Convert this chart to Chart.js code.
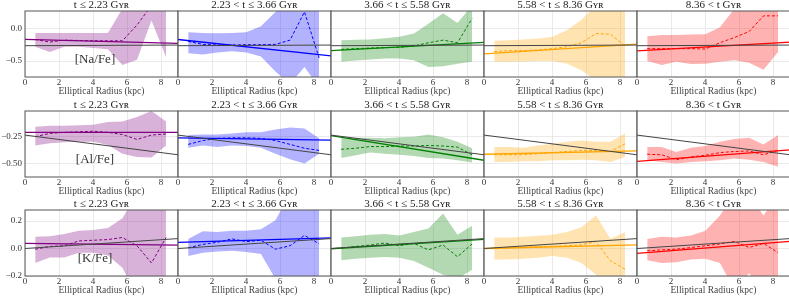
<!DOCTYPE html>
<html lang="en">
  <head>
    <meta charset="UTF-8" />
    <title>Abundance gradients</title>
    <script src="https://cdn.jsdelivr.net/npm/chart.js@4.4.1/dist/chart.umd.min.js"></script>
    <style>
      html, body { margin: 0; padding: 0; background: #fff; }
      body { width: 789px; height: 298px; overflow: hidden; position: relative; }
      canvas { position: absolute; }
    </style>
  </head>
  <body>
    <script>
      // radial bins (kpc) where the medians and bands are sampled
      const radius = [0.6, 1.46, 2.31, 3.17, 4.02, 4.88, 5.73, 6.59, 7.44, 8.3];
      // the linear fits run across the whole panel
      const fitRadius = [0, 9];

      const ageBins = [
        "t \u2264 2.23 G\u028F\u0280",
        "2.23 < t \u2264 3.66 G\u028F\u0280",
        "3.66 < t \u2264 5.58 G\u028F\u0280",
        "5.58 < t \u2264 8.36 G\u028F\u0280",
        "8.36 < t G\u028F\u0280",
      ];
      const elements = ["[Na/Fe]", "[Al/Fe]", "[K/Fe]"];

      const xTicks = [0, 2, 4, 6, 8];
      const yTicks = [[-0.5, 0.0], [-0.5, -0.25], [-0.2, 0.0, 0.2]];
      const yTickLabels = [
        ["\u22120.5", "0.0"],
        ["\u22120.50", "\u22120.25"],
        ["\u22120.2", "0.0", "0.2"],
      ];
      const yMin = [-0.742, -0.623, -0.2];
      const yMax = [0.264, -0.02, 0.28];

      // [Na/Fe]
      const naMedian = [
        [-0.17, -0.21, -0.18, -0.185, -0.19, -0.19, -0.19, 0.05, 0.35, 0.4],
        [-0.2, -0.245, -0.255, -0.255, -0.25, -0.25, -0.245, -0.18, 0.25, -0.45],
        [-0.32, -0.31, -0.3, -0.295, -0.29, -0.27, -0.22, -0.18, -0.22, 0.15],
        [-0.355, -0.34, -0.34, -0.33, -0.31, -0.28, -0.22, -0.08, -0.09, -0.27],
        [-0.31, -0.31, -0.31, -0.31, -0.315, -0.22, -0.14, -0.05, 0.19, 0.19],
      ];
      const naLow = [
        [-0.28, -0.36, -0.28, -0.28, -0.3, -0.32, -0.56, -0.48, 0.12, -0.44],
        [-0.38, -0.4, -0.37, -0.35, -0.37, -0.43, -0.66, -0.85, -0.59, -0.9],
        [-0.51, -0.49, -0.475, -0.46, -0.46, -0.485, -0.59, -0.58, -0.54, -0.51],
        [-0.51, -0.51, -0.505, -0.5, -0.5, -0.54, -0.64, -0.8, -0.9, -0.9],
        [-0.5, -0.56, -0.51, -0.545, -0.54, -0.51, -0.485, -0.525, -0.63, -0.36],
      ];
      const naHigh = [
        [-0.07, -0.07, -0.07, -0.07, -0.07, -0.07, 0.3, 0.6, 0.6, 0.6],
        [-0.06, -0.07, -0.075, -0.07, -0.06, 0.03, 0.25, 0.5, 0.5, 0.4],
        [-0.18, -0.175, -0.17, -0.15, -0.13, -0.08, 0.07, 0.23, 0.08, 0.35],
        [-0.19, -0.18, -0.17, -0.155, -0.13, -0.03, 0.13, 0.35, 0.4, 0.4],
        [-0.12, -0.1, -0.1, -0.095, -0.09, 0.015, 0.3, 0.4, 0.4, 0.4],
      ];
      const naFit = [[-0.17, -0.23], [-0.17, -0.42], [-0.34, -0.215], [-0.39, -0.24], [-0.345, -0.21]];
      const naAll = [-0.265, -0.255];

      // [Al/Fe]
      const alMedian = [
        [-0.255, -0.225, -0.215, -0.21, -0.205, -0.215, -0.235, -0.28, -0.24, -0.23],
        [-0.325, -0.29, -0.27, -0.265, -0.265, -0.27, -0.29, -0.325, -0.36, -0.38],
        [-0.37, -0.36, -0.345, -0.345, -0.34, -0.34, -0.335, -0.34, -0.35, -0.42],
        [-0.42, -0.42, -0.42, -0.41, -0.4, -0.39, -0.38, -0.38, -0.39, -0.32],
        [-0.415, -0.42, -0.465, -0.44, -0.425, -0.4, -0.39, -0.385, -0.42, -0.38],
      ];
      const alLow = [
        [-0.335, -0.315, -0.305, -0.3, -0.3, -0.33, -0.41, -0.44, -0.445, -0.335],
        [-0.355, -0.335, -0.35, -0.335, -0.34, -0.355, -0.41, -0.46, -0.5, -0.41],
        [-0.45, -0.425, -0.4, -0.41, -0.42, -0.43, -0.45, -0.455, -0.47, -0.49],
        [-0.485, -0.485, -0.48, -0.48, -0.47, -0.47, -0.465, -0.47, -0.485, -0.44],
        [-0.47, -0.485, -0.5, -0.485, -0.48, -0.47, -0.455, -0.465, -0.485, -0.53],
      ];
      const alHigh = [
        [-0.165, -0.155, -0.155, -0.15, -0.145, -0.12, -0.115, -0.075, -0.02, -0.115],
        [-0.24, -0.235, -0.235, -0.225, -0.215, -0.215, -0.19, -0.17, -0.18, -0.27],
        [-0.27, -0.265, -0.265, -0.27, -0.26, -0.255, -0.235, -0.26, -0.3, -0.36],
        [-0.35, -0.35, -0.355, -0.335, -0.32, -0.3, -0.29, -0.3, -0.3, -0.225],
        [-0.35, -0.35, -0.395, -0.355, -0.34, -0.3, -0.275, -0.265, -0.325, -0.24],
      ];
      const alFit = [[-0.215, -0.215], [-0.265, -0.287], [-0.245, -0.47], [-0.415, -0.385], [-0.48, -0.375]];
      const alAll = [-0.24, -0.42];

      // [K/Fe]
      const kMedian = [
        [-0.005, 0.015, 0.02, 0.055, 0.06, 0.065, 0.08, 0.02, -0.105, 0.08],
        [0.005, 0.03, 0.045, 0.07, 0.05, 0.06, -0.005, 0.02, 0.095, 0.035],
        [0.003, 0.015, 0.025, 0.04, 0.02, 0.037, -0.01, 0.025, -0.06, 0.033],
        [0.002, 0.006, 0.01, 0.013, 0.016, 0.02, 0.027, 0.05, -0.09, -0.15],
        [-0.017, -0.01, -0.005, 0.007, 0.02, 0.033, 0.052, 0.007, 0.037, -0.03],
      ];
      const kLow = [
        [-0.105, -0.065, -0.065, -0.03, -0.03, -0.05, -0.14, -0.35, -0.35, -0.35],
        [-0.055, -0.03, -0.022, -0.017, -0.025, -0.04, -0.22, -0.35, -0.35, -0.35],
        [-0.085, -0.075, -0.067, -0.062, -0.067, -0.09, -0.14, -0.19, -0.22, -0.155],
        [-0.08, -0.08, -0.075, -0.067, -0.055, -0.067, -0.105, -0.19, -0.3, -0.3],
        [-0.085, -0.105, -0.1, -0.08, -0.075, -0.105, -0.3, -0.18, -0.3, -0.3],
      ];
      const kHigh = [
        [0.085, 0.09, 0.105, 0.13, 0.135, 0.15, 0.22, 0.4, 0.4, 0.4],
        [0.07, 0.125, 0.12, 0.13, 0.13, 0.14, 0.205, 0.4, 0.4, 0.3],
        [0.08, 0.09, 0.1, 0.105, 0.095, 0.12, 0.145, 0.255, 0.1, 0.165],
        [0.08, 0.08, 0.085, 0.093, 0.1, 0.12, 0.155, 0.24, 0.07, 0.12],
        [0.07, 0.085, 0.08, 0.095, 0.13, 0.24, 0.4, 0.4, 0.24, 0.4],
      ];
      const kFit = [[0.037, 0.025], [0.044, 0.077], [-0.002, 0.066], [0.0, 0.027], [-0.035, 0.052]];
      const kAll = [0.0, 0.072];

      const medians = [naMedian, alMedian, kMedian];
      const lows = [naLow, alLow, kLow];
      const highs = [naHigh, alHigh, kHigh];
      const fits = [naFit, alFit, kFit];
      const allFits = [naAll, alAll, kAll];

      // look
      const lineColors = ["#800080", "#0000ff", "#008000", "#ffa500", "#ff0000"];
      const bandColors = [
        "rgba(128,0,128,0.3)",
        "rgba(0,0,255,0.3)",
        "rgba(0,128,0,0.3)",
        "rgba(255,165,0,0.3)",
        "rgba(255,0,0,0.3)",
      ];
      const colLeft = [25, 178, 331, 484, 637];
      const rowTop = [11, 111, 210];
      const panelW = 153;
      const panelH = 66;
      const yAxisW = 25;
      const xAxisH = 22;
      const titleH = 14;
      const padRight = 14;

      Chart.defaults.font.family = "'Liberation Serif', 'DejaVu Serif', serif";
      Chart.defaults.color = "#333";

      const points = (xs, ys) => xs.map((x, i) => ({ x: x, y: ys[i] }));

      const framePlugin = {
        id: "frame",
        afterDatasetsDraw(chart, args, opts) {
          const { ctx, chartArea: a } = chart;
          ctx.save();
          if (opts.label) {
            ctx.fillStyle = "#333";
            ctx.font = "13px 'Liberation Serif', 'DejaVu Serif', serif";
            ctx.textAlign = "center";
            ctx.textBaseline = "middle";
            ctx.fillText(opts.label, a.left + 70, a.top + 49);
          }
          ctx.strokeStyle = "#555";
          ctx.lineWidth = 1;
          ctx.strokeRect(a.left, a.top, a.right - a.left, a.bottom - a.top);
          ctx.restore();
        },
      };

      function makePanel(row, col) {
        const canvas = document.createElement("canvas");
        canvas.width = yAxisW + panelW + padRight;
        canvas.height = titleH + panelH + xAxisH;
        canvas.style.left = colLeft[col] - yAxisW + "px";
        canvas.style.top = rowTop[row] - titleH + "px";
        document.body.appendChild(canvas);

        const datasets = [
          {
            data: points(fitRadius, allFits[row]),
            borderColor: "#444",
            borderWidth: 1,
          },
          {
            data: points(fitRadius, fits[row][col]),
            borderColor: lineColors[col],
            borderWidth: 1.3,
          },
          {
            data: points(radius, medians[row][col]),
            borderColor: lineColors[col],
            borderWidth: 1,
            borderDash: [3, 2],
          },
          {
            data: points(radius, highs[row][col]),
            borderWidth: 0,
            borderColor: "rgba(0,0,0,0)",
            backgroundColor: bandColors[col],
            fill: "+1",
          },
          {
            data: points(radius, lows[row][col]),
            borderWidth: 0,
            borderColor: "rgba(0,0,0,0)",
          },
        ];

        new Chart(canvas, {
          type: "line",
          data: { datasets: datasets },
          plugins: [framePlugin],
          options: {
            responsive: false,
            animation: false,
            devicePixelRatio: 1,
            events: [],
            elements: { point: { radius: 0 }, line: { tension: 0 } },
            layout: { padding: { left: 0, right: padRight, top: 0, bottom: 0 } },
            plugins: {
              legend: { display: false },
              tooltip: { enabled: false },
              title: {
                display: true,
                text: ageBins[col],
                fullSize: false,
                color: "#222",
                font: { size: 11, weight: "normal", lineHeight: 1.0 },
                padding: { top: 3, bottom: 0 },
              },
              frame: { label: col === 0 ? elements[row] : null },
            },
            scales: {
              x: {
                type: "linear",
                min: 0,
                max: 9,
                afterBuildTicks: (s) => {
                  s.ticks = xTicks.map((v) => ({ value: v }));
                },
                afterFit: (s) => {
                  s.height = xAxisH;
                  s.paddingLeft = 0;
                  s.paddingRight = 0;
                },
                ticks: { font: { size: 9 }, padding: 0, maxRotation: 0, color: "#333" },
                grid: { color: "#e4e4e4", lineWidth: 0.8, drawTicks: false },
                border: { display: false },
                title: {
                  display: true,
                  text: "Elliptical Radius (kpc)",
                  color: "#444",
                  font: { size: 9.5, lineHeight: 1.2 },
                  padding: { top: 0, bottom: 2.3 },
                },
              },
              y: {
                type: "linear",
                min: yMin[row],
                max: yMax[row],
                afterBuildTicks: (s) => {
                  s.ticks = yTicks[row].map((v) => ({ value: v }));
                },
                afterFit: (s) => {
                  s.width = yAxisW;
                  s.paddingTop = 0;
                  s.paddingBottom = 0;
                },
                ticks: {
                  display: col === 0,
                  font: { size: 9 },
                  padding: 3,
                  color: "#333",
                  callback: (v) => yTickLabels[row][yTicks[row].indexOf(v)],
                },
                grid: { color: "#e4e4e4", lineWidth: 0.8, drawTicks: false },
                border: { display: false },
              },
            },
          },
        });
      }

      for (let r = 0; r < 3; r++) {
        for (let c = 0; c < 5; c++) {
          makePanel(r, c);
        }
      }
    </script>
  </body>
</html>
